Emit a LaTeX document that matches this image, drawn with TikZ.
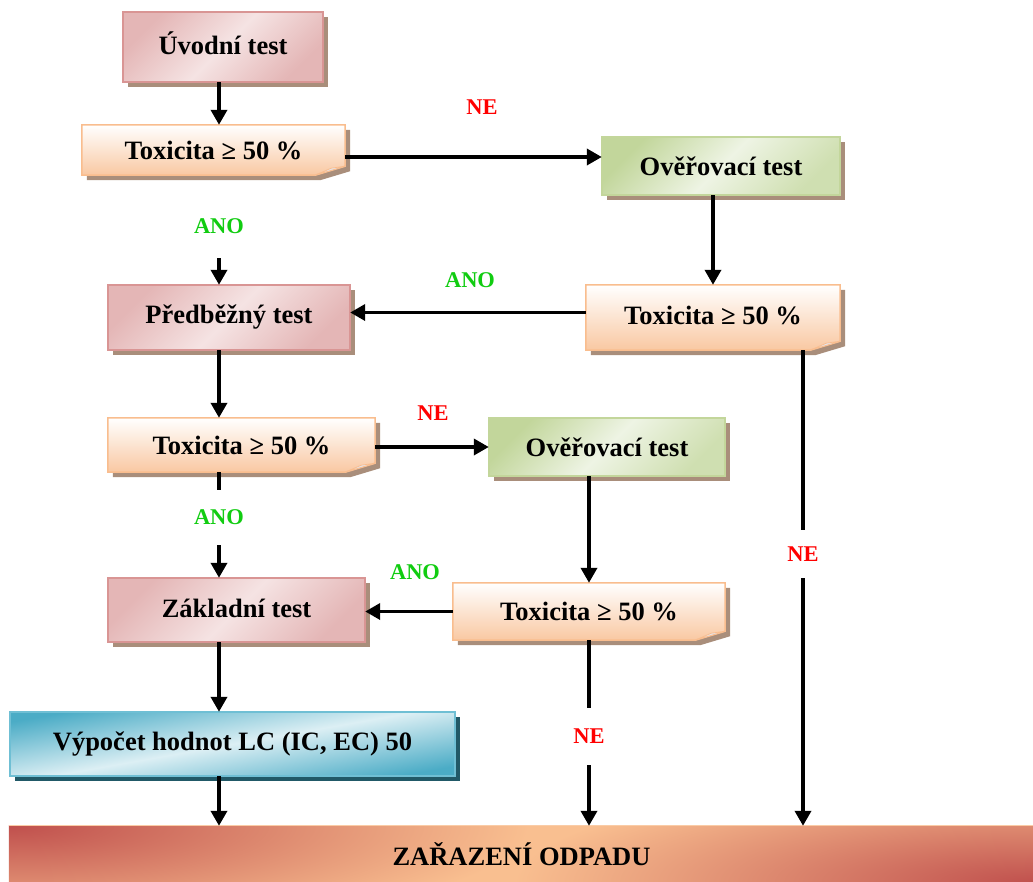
\documentclass[tikz,border=0pt]{standalone}
\usepackage{fontspec}
\setmainfont{Liberation Serif}
\usetikzlibrary{arrows.meta,calc,backgrounds}
\definecolor{pinkdark}{HTML}{E4B6B6}
\definecolor{pinklight}{HTML}{F5E3E3}
\definecolor{pinkborder}{HTML}{D99594}
\definecolor{greendark}{HTML}{C2D69B}
\definecolor{greenlight}{HTML}{EEF4E4}
\definecolor{greenborder}{HTML}{C3D69B}
\definecolor{toxbot}{HTML}{F9C8A2}
\definecolor{toxborder}{HTML}{F9BD8E}
\definecolor{hatch}{HTML}{A98E7B}
\definecolor{foldc}{HTML}{E4E6EE}
\definecolor{bluedark}{HTML}{4BACC6}
\definecolor{bluelight}{HTML}{DCEFF4}
\definecolor{blueborder}{HTML}{6FBFD4}
\definecolor{blueshadow}{HTML}{215967}
\definecolor{barpeach}{HTML}{F9BF90}
\definecolor{barred}{HTML}{C0504D}
\definecolor{anogreen}{HTML}{11CC11}
\definecolor{nered}{HTML}{FF0000}
\tikzset{
  boxtxt/.style={font=\fontsize{26.5}{30}\selectfont\bfseries, inner sep=0pt, align=center},
  lbl/.style={font=\fontsize{22.5}{26}\selectfont\bfseries, inner sep=0pt},
  ano/.style={lbl, text=anogreen},
  ne/.style={lbl, text=nered},
  ln/.style={line width=3.6pt},
  arr/.style={line width=3.6pt, -{Triangle[length=15pt,width=16pt]}},
  pinkshade/.style={left color=pinkdark, right color=pinkdark, middle color=pinklight, shading angle=45},
  greenshade/.style={left color=greendark, right color=greendark!70!greenlight, middle color=greenlight, shading angle=45},
  blueshade/.style={left color=bluedark, right color=bluedark, middle color=bluelight, shading angle=10},
}
\newcommand{\rectbox}[4]{%
  \fill[#4] ($(#1.north west)+(5,5)$) rectangle ($(#1.south east)+(5,5)$);
  \shade[#2, draw=#3, line width=1.5pt] (#1.north west) rectangle (#1.south east);
}
\newcommand{\foldbox}[1]{%
  \fill[hatch] ($(#1.north west)+(5,5)$) -- ($(#1.north east)+(5,5)$) -- ($(#1.south east)+(5,-4)$) -- ($(#1.south east)+(-25,5)$) -- ($(#1.south west)+(5,5)$) -- cycle;
  \shade[top color=white, bottom color=toxbot, draw=toxborder, line width=1.5pt] (#1.north west) -- (#1.north east) -- ($(#1.south east)+(0,-9)$) -- ($(#1.south east)+(-30,0)$) -- (#1.south west) -- cycle;
  \filldraw[fill=foldc, draw=toxborder, line width=0.8pt] ($(#1.south east)+(-30,0)$) -- ($(#1.south east)+(-14,-7)$) -- ($(#1.south east)+(0,-9)$) -- cycle;
}
\begin{document}
\begin{tikzpicture}[x=1pt,y=-1pt]
\useasboundingbox (0,0) rectangle (1033,881);
\coordinate (colx) at (219,0);
% nodes
\node[boxtxt, minimum width=200pt, minimum height=70pt] (uvod) at (223,47) {\raisebox{7pt}{Úvodní test}};
\node[boxtxt, minimum width=263pt, minimum height=50pt] (tox1) at (213.5,150) {\raisebox{-5pt}{Toxicita ≥ 50 \%}};
\node[boxtxt, minimum width=238pt, minimum height=58pt] (over1) at (721,166) {Ověřovací test};
\node[boxtxt, minimum width=254pt, minimum height=65pt] (tox2) at (713,317.5) {\raisebox{4pt}{Toxicita ≥ 50 \%}};
\node[boxtxt, minimum width=242pt, minimum height=65pt] (pred) at (229,317.5) {\raisebox{2pt}{Předběžný test}};
\node[boxtxt, minimum width=267pt, minimum height=54pt] (tox3) at (241.5,445) {Toxicita ≥ 50 \%};
\node[boxtxt, minimum width=236pt, minimum height=58pt] (over2) at (607,447) {Ověřovací test};
\node[boxtxt, minimum width=257pt, minimum height=64pt] (zakl) at (236.5,610) {\raisebox{3pt}{Základní test}};
\node[boxtxt, minimum width=272pt, minimum height=57pt] (tox4) at (589,611.5) {Toxicita ≥ 50 \%};
\node[boxtxt, minimum width=445pt, minimum height=64pt] (vyp) at (232.5,744) {\raisebox{2pt}{Výpočet hodnot LC (IC, EC) 50}};
\node[boxtxt, minimum width=1025pt, minimum height=57pt] (bar) at (521.5,854.5) {ZAŘAZENÍ ODPADU};
% labels
\node[ne] (ne0) at (482,107) {NE};
\node[ano, minimum height=64pt] (ano1) at (219,226) {ANO};
\node[ano] (ano3) at (470,280) {ANO};
\node[ne, minimum height=48pt] (ne1) at (803,554) {NE};
\node[ne] (ne4) at (433,413) {NE};
\node[ano, minimum height=55pt] (ano2) at (219,517.5) {ANO};
\node[ano] (ano5) at (415,572) {ANO};
\node[ne, minimum height=57pt] (ne2) at (589,736.5) {NE};
% backgrounds
\begin{scope}[on background layer]
  \rectbox{uvod}{pinkshade}{pinkborder}{hatch}
  \rectbox{pred}{pinkshade}{pinkborder}{hatch}
  \rectbox{zakl}{pinkshade}{pinkborder}{hatch}
  \rectbox{over1}{greenshade}{greenborder}{hatch}
  \rectbox{over2}{greenshade}{greenborder}{hatch}
  \foldbox{tox1}
  \foldbox{tox2}
  \foldbox{tox3}
  \foldbox{tox4}
  \rectbox{vyp}{blueshade}{blueborder}{blueshadow}
  \fill[barpeach] (bar.north west) rectangle (bar.south east);
  \begin{scope}
    \clip (bar.north west) rectangle (bar.south east);
    \shade[inner color=barred, outer color=barpeach] (bar.north west) ellipse (520 and 110);
    \shade[inner color=barred, outer color=barpeach] (bar.south east) ellipse (520 and 110);
  \end{scope}
  \draw[barpeach!80!white, line width=1pt] (bar.north west) -- (bar.north east);
\end{scope}
% connectors
\draw[arr] (uvod.south -| colx) -- (tox1.north -| colx);
\draw[arr] ([yshift=-7pt]tox1.east) -- ([yshift=-7pt]tox1.east -| over1.west);
\draw[arr] (ano1.south) -- (pred.north -| colx);
\draw[arr] (tox2.north |- over1.south) -- (tox2.north);
\draw[arr] ([yshift=5pt]tox2.west) -- ([yshift=5pt]tox2.west -| pred.east);
\draw[ln] (tox2.south -| ne1) -- (ne1.north);
\draw[arr] (ne1.south) -- (ne1.south |- bar.north);
\draw[arr] (pred.south -| colx) -- (tox3.north -| colx);
\draw[arr] ([yshift=-2pt]tox3.east) -- ([yshift=-2pt]tox3.east -| over2.west);
\draw[ln] (tox3.south -| colx) -- (ano2.north);
\draw[arr] (ano2.south) -- (zakl.north -| colx);
\draw[arr] (tox4.north |- over2.south) -- (tox4.north);
\draw[arr] (tox4.west) -- (tox4.west -| zakl.east);
\draw[ln] (tox4.south -| ne2) -- (ne2.north);
\draw[arr] (ne2.south) -- (ne2.south |- bar.north);
\draw[arr] (zakl.south -| colx) -- (vyp.north -| colx);
\draw[arr] (vyp.south -| colx) -- (bar.north -| colx);
\end{tikzpicture}
\end{document}
